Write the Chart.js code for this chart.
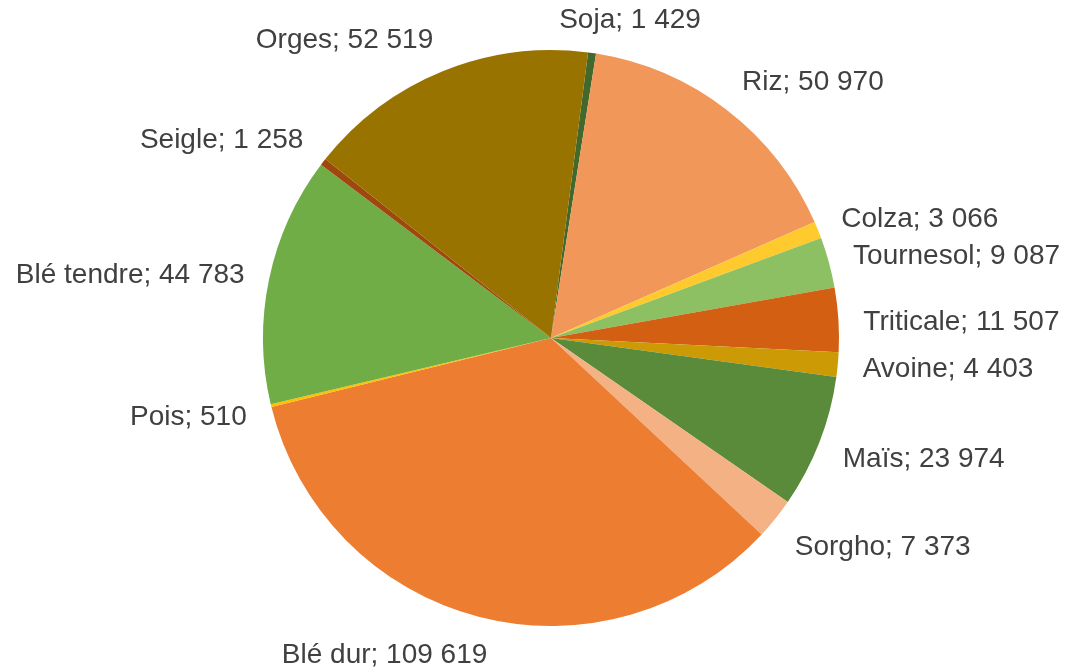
<!DOCTYPE html>
<html>
<head>
<meta charset="utf-8">
<script src="https://cdn.jsdelivr.net/npm/chart.js@4.4.1/dist/chart.umd.min.js"></script>
<style>
  html, body { margin: 0; padding: 0; background: #ffffff; }
  #wrap { width: 1068px; height: 667px; position: relative; }
</style>
</head>
<body>
<div id="wrap"><canvas id="c" width="1068" height="667"></canvas></div>
<script>
const categories = ["Soja", "Riz", "Colza", "Tournesol", "Triticale", "Avoine", "Maïs", "Sorgho", "Blé dur", "Pois", "Blé tendre", "Seigle", "Orges"];
const values = [1429, 50970, 3066, 9087, 11507, 4403, 23974, 7373, 109619, 510, 44783, 1258, 52519];
const colors = ["#43682B", "#F1975A", "#FFCA2E", "#8DC063", "#D25F12", "#CC9A04", "#5A8B3A", "#F4B183", "#ED7D31", "#FFC000", "#70AD47", "#9E480E", "#997300"];

function fmt(v) {
  return String(v).replace(/\B(?=(\d{3})+(?!\d))/g, " ");
}

const labelPlugin = {
  id: "outsideLabels",
  afterDatasetsDraw(chart) {
    const ctx = chart.ctx;
    const meta = chart.getDatasetMeta(0);
    ctx.save();
    ctx.font = "28px 'Liberation Sans', Arial, sans-serif";
    ctx.fillStyle = "#404040";
    ctx.textAlign = "center";
    ctx.textBaseline = "middle";
    const gap = 25, boxH = 26;
    const clamp = v => Math.max(-1, Math.min(1, v));
    meta.data.forEach((arc, i) => {
      const p = arc.getProps(["x", "y", "startAngle", "endAngle", "outerRadius"], true);
      const mid = (p.startAngle + p.endAngle) / 2;
      const dx = Math.cos(mid), dy = Math.sin(mid);
      const txt = categories[i] + "; " + fmt(values[i]);
      const w = ctx.measureText(txt).width;
      const px = p.x + (p.outerRadius + gap) * dx;
      const py = p.y + (p.outerRadius + gap) * dy;
      const cx = px + clamp(3.4 * dx) * w / 2;
      const cy = py + clamp(1.5 * dy) * boxH / 2 + (dy < 0 ? 4.5 : 0);
      ctx.fillText(txt, cx, cy + 1);
    });
    ctx.restore();
  }
};

new Chart(document.getElementById("c"), {
  type: "pie",
  data: {
    labels: categories,
    datasets: [{
      data: values,
      backgroundColor: colors,
      borderWidth: 0
    }]
  },
  options: {
    responsive: false,
    animation: false,
    rotation: 7.4,
    layout: { padding: { left: 263, right: 229, top: 50, bottom: 41 } },
    plugins: {
      legend: { display: false },
      tooltip: { enabled: false }
    }
  },
  plugins: [labelPlugin]
});
</script>
</body>
</html>
